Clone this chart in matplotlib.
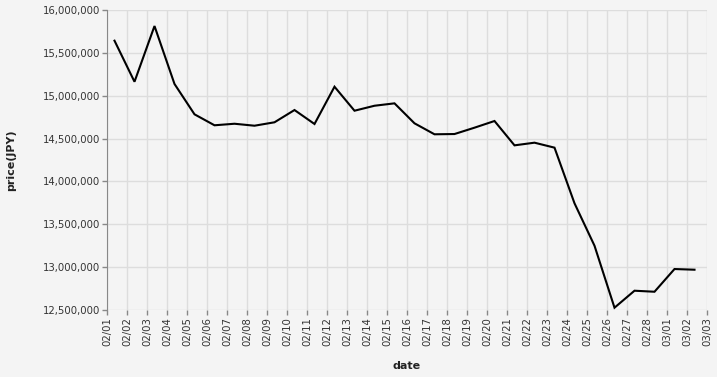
import datetime as dt
import matplotlib
matplotlib.use("Agg")
import matplotlib.pyplot as plt
import matplotlib.dates as mdates
from matplotlib.ticker import FuncFormatter, MultipleLocator

# daily price readings (JPY), Feb 1 - Mar 2, 2025, taken at 09:00
start = dt.datetime(2025, 2, 1, 9, 0)
prices = [
    15642000, 15163000, 15813000, 15137000, 14783000, 14655000,
    14673000, 14650000, 14690000, 14833000, 14670000, 15105000,
    14825000, 14883000, 14911000, 14678000, 14550000, 14553000,
    14627000, 14705000, 14421000, 14452000, 14394000, 13745000,
    13250000, 12527000, 12725000, 12713000, 12978000, 12970000,
]
dates = [start + dt.timedelta(days=i) for i in range(len(prices))]

bg = "#f4f4f4"
fig = plt.figure(figsize=(7.17, 3.77), dpi=100, facecolor=bg)
ax = fig.add_axes([107 / 717, 1 - 310 / 377, 600 / 717, 300 / 377])
ax.set_facecolor(bg)

ax.plot(dates, prices, color="black", linewidth=1.5, solid_joinstyle="miter")

ax.set_xlim(dt.datetime(2025, 2, 1), dt.datetime(2025, 3, 3))
ax.set_ylim(12500000, 16000000)
ax.xaxis.set_major_locator(mdates.DayLocator())
ax.xaxis.set_major_formatter(mdates.DateFormatter("%m/%d"))
ax.yaxis.set_major_locator(MultipleLocator(500000))
ax.yaxis.set_major_formatter(FuncFormatter(lambda v, p: f"{int(v):,}"))

ax.grid(True, color="#dddddd", linewidth=1)
ax.set_axisbelow(True)
for side in ["top", "right", "bottom"]:
    ax.spines[side].set_visible(False)
ax.spines["left"].set_color("#888888")
ax.spines["left"].set_zorder(3)

ax.tick_params(axis="both", colors="#888888", length=3.6, width=1,
               labelsize=7.3, labelcolor="#333333", pad=1.5)
plt.setp(ax.get_xticklabels(), rotation=90, ha="center", va="top")

ax.set_xlabel("date", fontsize=8, fontweight="bold", color="#222222", labelpad=11)
ax.set_ylabel("price(JPY)", fontsize=8, fontweight="bold", color="#222222", labelpad=19)

fig.savefig("out.png", dpi=100, facecolor=bg)
